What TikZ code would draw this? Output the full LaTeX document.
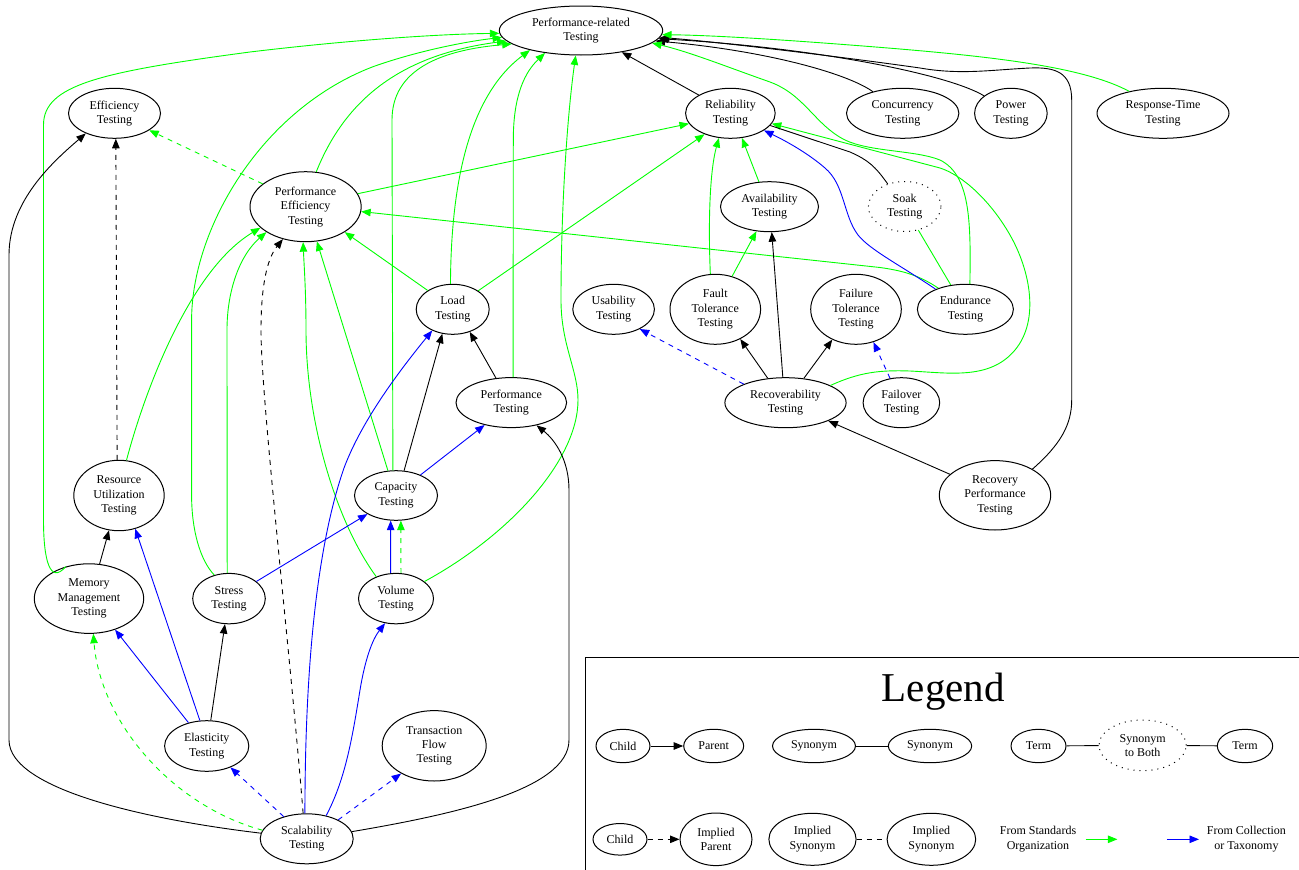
\documentclass[tikz,border=0pt]{standalone}
\usepackage{fontspec}
\setmainfont{Liberation Serif}
\usetikzlibrary{shapes.geometric,arrows.meta}
\definecolor{gr}{RGB}{0,255,0}
\definecolor{bl}{RGB}{0,0,255}
\tikzset{
  nd/.style={ellipse, draw, line width=1pt, inner sep=0pt, align=center, font=\fontsize{12}{14.4}\selectfont},
  dotb/.style={dash pattern=on 1pt off 5pt},
  txt/.style={align=center, font=\fontsize{12}{14.4}\selectfont, inner sep=0pt},
  ln/.style={line width=0.9pt},
  ar/.style={-{Triangle[length=9.5pt,width=7.5pt]}},
  blk/.style={ln, ar, draw=black},
  grn/.style={ln, ar, draw=gr},
  blu/.style={ln, ar, draw=bl},
  syn/.style={ln, draw=black},
  gsyn/.style={ln, draw=gr},
  dsh/.style={dash pattern=on 5pt off 5pt},
}
\begin{document}
\begin{tikzpicture}[x=1pt,y=-1pt]
\useasboundingbox (0,0) rectangle (1299,870);
% nodes
\node[nd, minimum width=163.4pt, minimum height=49pt] (PR) at (581,30.5) {Performance-related\\Testing};
\node[nd, minimum width=92pt, minimum height=50pt] (Eff) at (114.5,113.3) {Efficiency\\Testing};
\node[nd, minimum width=89.6pt, minimum height=50pt] (Rel) at (730.4,113.3) {Reliability\\Testing};
\node[nd, minimum width=112.4pt, minimum height=50pt] (Conc) at (902.7,113.3) {Concurrency\\Testing};
\node[nd, minimum width=72.6pt, minimum height=50pt] (Pow) at (1010.9,113.3) {Power\\Testing};
\node[nd, minimum width=132pt, minimum height=50pt] (RT) at (1163,113.3) {Response-Time\\Testing};
\node[nd, minimum width=111.2pt, minimum height=70pt] (PE) at (305.6,206.7) {Performance\\Efficiency\\Testing};
\node[nd, minimum width=98pt, minimum height=50pt] (Av) at (769.5,206.7) {Availability\\Testing};
\node[nd, dotb, minimum width=72.6pt, minimum height=50pt] (Soak) at (904.7,206.5) {Soak\\Testing};
\node[nd, minimum width=73pt, minimum height=50pt] (Load) at (452.7,309.3) {Load\\Testing};
\node[nd, minimum width=81.6pt, minimum height=50pt] (Usa) at (613.6,309.3) {Usability\\Testing};
\node[nd, minimum width=90.6pt, minimum height=70pt] (FT) at (715.3,309.3) {Fault\\Tolerance\\Testing};
\node[nd, minimum width=90.6pt, minimum height=70pt] (FaT) at (856,309.3) {Failure\\Tolerance\\Testing};
\node[nd, minimum width=96pt, minimum height=50pt] (End) at (965.4,309.3) {Endurance\\Testing};
\node[nd, minimum width=110.6pt, minimum height=50pt] (PT) at (511.3,402.6) {Performance\\Testing};
\node[nd, minimum width=121.2pt, minimum height=50pt] (Rec) at (785.5,402.7) {Recoverability\\Testing};
\node[nd, minimum width=76.6pt, minimum height=50pt] (Fo) at (901.4,402.7) {Failover\\Testing};
\node[nd, minimum width=90.4pt, minimum height=70.4pt] (RU) at (119,495.5) {Resource\\Utilization\\Testing};
\node[nd, minimum width=83pt, minimum height=49.6pt] (Cap) at (396,495.5) {Capacity\\Testing};
\node[nd, minimum width=111.4pt, minimum height=69.4pt] (RP) at (995,495.3) {Recovery\\Performance\\Testing};
\node[nd, minimum width=109.4pt, minimum height=69.6pt] (MM) at (89,598.6) {Memory\\Management\\Testing};
\node[nd, minimum width=72.6pt, minimum height=50.4pt] (Str) at (229,598.6) {Stress\\Testing};
\node[nd, minimum width=75pt, minimum height=50.4pt] (Vol) at (396,598.6) {Volume\\Testing};
\node[nd, minimum width=84.2pt, minimum height=50.6pt] (Ela) at (206.7,746) {Elasticity\\Testing};
\node[nd, minimum width=104pt, minimum height=70.4pt] (TF) at (434.2,745.8) {Transaction\\Flow\\Testing};
\node[nd, minimum width=93pt, minimum height=50pt] (Sca) at (306.7,838.8) {Scalability\\Testing};

% edges into Performance-related Testing (left and bottom)
\draw[grn] (MM.126) .. controls (50,585) and (43.5,560) .. (43.5,520) -- (43.5,125) .. controls (43.5,85) and (100,72) .. (250,52) .. controls (350,40) and (440,34) .. (PR.182);
\draw[grn] (Str.122) .. controls (200,560) and (191.6,530) .. (191.6,495) -- (191.6,320) .. controls (191.6,230) and (260,110) .. (373,66.7) .. controls (420,50) and (470,41) .. (PR.185);
\draw[grn] (PE.73) .. controls (345,100) and (400,55) .. (PR.188);
\draw[grn] (Cap.97) -- (392,120) .. controls (392,70) and (440,50) .. (PR.191);
\draw[grn] (Load.95) .. controls (451,180) and (470,95) .. (PR.201);
\draw[grn] (PT.86) -- (513.3,140) .. controls (513.3,95) and (525,72) .. (PR.212);
\draw[grn] (Vol.31) .. controls (510,535) and (578,460) .. (578,400) .. controls (578,370) and (561,345) .. (561,300) .. controls (561,200) and (568,110) .. (PR.258);

% left part
\draw[grn, dsh] (PE.152) -- (Eff.334);
\draw[blk, dsh] (RU.93) -- (Eff.273);
\draw[blk] (Sca.173) .. controls (150,820) and (9,790) .. (9,740) -- (9,255) .. controls (9,200) and (55,160) .. (Eff.215);
\draw[blk] (Sca.9) .. controls (450,815) and (569,790) .. (569,740) -- (569,490) .. controls (569,460) and (555,440) .. (PT.318);
\draw[grn] (RU.78) .. controls (145,390) and (190,270) .. (PE.205);
\draw[grn] (Str.94) -- (227,330) .. controls (227,290) and (240,255) .. (PE.213);
\draw[blk, dsh] (Sca.98) .. controls (290,650) and (261,400) .. (261,330) .. controls (261,290) and (266,260) .. (PE.235);
\draw[grn] (Cap.108) -- (PE.288);
\draw[grn] (Vol.132) .. controls (335,520) and (306,420) .. (306,330) .. controls (306,290) and (304,265) .. (PE.266);
\draw[grn] (Load.143) -- (PE.327);
\draw[grn] (Load.36) -- (Rel.219);
\draw[grn] (PE.14) -- (Rel.194);
\draw[grn] (End.142) .. controls (920,276) and (905,271) .. (880,267.5) -- (PE.355);
\draw[blu] (Sca.94) .. controls (305,700) and (312,560) .. (344,468) .. controls (362,420) and (400,370) .. (Load.226);
\draw[blk] (Cap.72) -- (Load.247);
\draw[blk] (PT.122) -- (Load.307);
\draw[blu] (Cap.40) -- (PT.220);
\draw[blu] (Str.32) -- (Cap.213);
\draw[blu] (Vol.102) -- (Cap.258);
\draw[grn, dsh] (Vol.79) -- (Cap.281);
\draw[blk] (MM.73) -- (RU.254);
\draw[blu] (Ela.105) -- (RU.296);
\draw[blu] (Ela.128) -- (MM.310);
\draw[blk] (Ela.81) -- (Str.261);
\draw[blu] (Sca.50) .. controls (345,780) and (352,740) .. (360,690) .. controls (365,660) and (372,640) .. (Vol.246);
\draw[grn, dsh] (Sca.169) .. controls (170,805) and (100,720) .. (MM.277);
\draw[blu, dsh] (Sca.136) -- (Ela.318);
\draw[blu, dsh] (Sca.31) -- (TF.220);

% right part
\draw[blk] (Rel.150) -- (PR.332);
\draw[blk] (Conc.144) .. controls (845,72) and (760,50) .. (PR.352);
\draw[blk] (Pow.147) .. controls (950,75) and (820,48) .. (PR.354);
\draw[blk] (RP.35) .. controls (1060,445) and (1071.7,425) .. (1071.7,400) -- (1071.7,100) .. controls (1071.7,72) and (1055,67) .. (1030,68) .. controls (990,70) and (960,75) .. (920,68) .. controls (850,58) and (720,42) .. (PR.355.5);
\draw[grn] (RT.147) .. controls (1080,65) and (980,55) .. (850,45) .. controls (760,38) and (700,35) .. (PR.357.5);
\draw[grn] (End.80) .. controls (971,220) and (970,175) .. (940,160) .. controls (915,150) and (870,152) .. (845,140) .. controls (815,125) and (805,95) .. (770,82) .. controls (730,68) and (690,52) .. (PR.350);
\draw[grn] (Rec.21) .. controls (860,372) and (880,370) .. (910,371) .. controls (950,373) and (990,380) .. (1015,350) .. controls (1040,320) and (1030,270) .. (1010,235) .. controls (990,200) and (962,175) .. (940,168) -- (Rel.346);
\draw[syn] (Soak.127) .. controls (875,166) and (868,160) .. (850,152) -- (Rel.343);
\draw[blu] (End.146) .. controls (900,265) and (870,250) .. (858,235) .. controls (843,215) and (845,185) .. (825,168) .. controls (810,155) and (790,143) .. (Rel.333);
\draw[gsyn] (Soak.300) -- (End.121);
\draw[grn] (FT.98) .. controls (708,220) and (710,170) .. (Rel.245);
\draw[grn] (Av.113) -- (Rel.295);
\draw[grn] (FT.63) -- (Av.242);
\draw[blk] (Rec.96) -- (Av.275);
\draw[blk] (Rec.126) -- (FT.310);
\draw[blk] (Rec.53) -- (FaT.232);
\draw[blu, dsh] (Fo.115) -- (FaT.298);
\draw[blu, dsh] (Rec.156) -- (Usa.323);
\draw[blk] (RP.155) -- (Rec.337);

% legend
\draw[line width=0.9pt] (585.5,870) -- (585.5,657.3) -- (1299,657.3);
\node[inner sep=0pt, font=\fontsize{41}{48}\selectfont] (LT) at (943.4,692) {Legend};
\node[nd, minimum width=54pt, minimum height=33.4pt] (L1c) at (623,746) {Child};
\node[nd, minimum width=60pt, minimum height=33.4pt] (L1p) at (713.7,746) {Parent};
\node[nd, minimum width=83pt, minimum height=33.4pt] (L2a) at (814,746) {Synonym};
\node[nd, minimum width=83.4pt, minimum height=33.4pt] (L2b) at (930,746) {Synonym};
\node[nd, minimum width=55pt, minimum height=33.4pt] (L3a) at (1038.5,746) {Term};
\node[nd, dotb, minimum width=87.2pt, minimum height=50.6pt] (L3s) at (1142.6,745.3) {Synonym\\to Both};
\node[nd, minimum width=55.4pt, minimum height=33.4pt] (L3b) at (1245,746) {Term};
\node[nd, minimum width=54pt, minimum height=31.6pt] (L4c) at (620,839.3) {Child};
\node[nd, minimum width=72pt, minimum height=52.6pt] (L4p) at (716,839.3) {Implied\\Parent};
\node[nd, minimum width=87.2pt, minimum height=52pt] (L5a) at (812.5,839.3) {Implied\\Synonym};
\node[nd, minimum width=88.6pt, minimum height=52pt] (L5b) at (931.4,839.3) {Implied\\Synonym};
\node[txt] (LS) at (1038,839.3) {From Standards\\Organization};
\node[txt] (LC) at (1246.4,839.3) {From Collection\\or Taxonomy};
\coordinate (gA) at (1085.7,839.3);
\coordinate (gB) at (1117.4,839.3);
\coordinate (bA) at (1166.9,839.3);
\coordinate (bB) at (1199,839.3);
\draw[blk] (L1c) -- (L1p);
\draw[syn] (L2a) -- (L2b);
\draw[syn] (L3a) -- (L3s);
\draw[syn] (L3s) -- (L3b);
\draw[blk, dsh] (L4c) -- (L4p);
\draw[syn, dsh] (L5a) -- (L5b);
\draw[grn] (gA) -- (gB);
\draw[blu] (bA) -- (bB);
\end{tikzpicture}
\end{document}
